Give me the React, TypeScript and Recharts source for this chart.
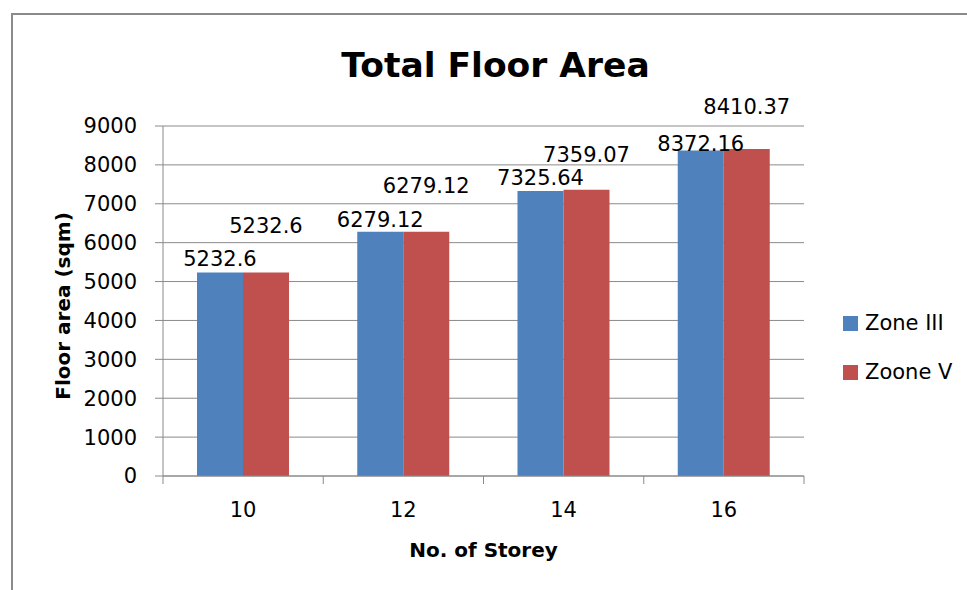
import React from 'react';
import { BarChart, Bar, XAxis, YAxis, CartesianGrid, LabelList } from 'recharts';

const categories = ['10', '12', '14', '16'];
const zoneIII = [5232.6, 6279.12, 7325.64, 8372.16];
const zooneV = [5232.6, 6279.12, 7359.07, 8410.37];
const yTicks = [0, 1000, 2000, 3000, 4000, 5000, 6000, 7000, 8000, 9000];
const seriesNames = ['Zone III', 'Zoone V'];

const data = categories.map((c, i) => ({ storey: c, zoneIII: zoneIII[i], zooneV: zooneV[i] }));

const BLUE = '#4F81BD';
const RED = '#C0504D';
const GRID = '#8a8a8a';
const FONT = '"DejaVu Sans", sans-serif';

const W = 967;
const H = 590;
const MARGIN = { top: 126, right: 163, bottom: 54, left: 100 };
const Y_W = 63;
const X_H = 60;
const BAND = (W - MARGIN.left - Y_W - MARGIN.right) / categories.length;

// labels were nudged by hand in the original, so keep per-point lifts
const liftIII = [7, 5, 6, -1];
const liftV = [40, 39, 28, 35];

const makeLabel = (lift: number[]) => (props: any) => {
  const { x, y, width, value, index } = props;
  return (
    <text x={x + width / 2} y={y - lift[index]} textAnchor="middle" fontFamily={FONT} fontSize={21} fill="#000">
      {String(value)}
    </text>
  );
};

const XTick = (props: any) => {
  const { x, y, payload, index } = props;
  const last = index === categories.length - 1;
  return (
    <g>
      <line x1={x - BAND / 2} x2={x - BAND / 2} y1={y} y2={y + 8} stroke={GRID} />
      {last && <line x1={x + BAND / 2} x2={x + BAND / 2} y1={y} y2={y + 8} stroke={GRID} />}
      <text x={x} y={y + 41} textAnchor="middle" fontFamily={FONT} fontSize={21} fill="#000">
        {payload.value}
      </text>
    </g>
  );
};

const XTitle = (props: any) => {
  const { viewBox } = props;
  return (
    <text x={viewBox.x + viewBox.width / 2} y={viewBox.y + 81} textAnchor="middle" fontFamily={FONT} fontWeight="bold" fontSize={20} fill="#000">
      No. of Storey
    </text>
  );
};

const YTitle = (props: any) => {
  const { viewBox } = props;
  const cx = 70;
  const cy = viewBox.y + viewBox.height / 2 + 5;
  return (
    <text x={cx} y={cy} transform={`rotate(-90, ${cx}, ${cy})`} textAnchor="middle" fontFamily={FONT} fontWeight="bold" fontSize={20} fill="#000">
      Floor area (sqm)
    </text>
  );
};

export default function App() {
  return (
    <div style={{ position: 'absolute', left: 0, top: 0, width: W, height: H, overflow: 'hidden', background: '#fff' }}>
      <div style={{ position: 'absolute', left: 11, top: 13, width: 1100, height: 800, border: `2px solid ${GRID}` }} />
      <div
        style={{
          position: 'absolute', left: 0, width: W - 2 * 0, top: 48, textAlign: 'center', paddingLeft: 24,
          fontFamily: FONT, fontWeight: 'bold', fontSize: 34.5, lineHeight: '34.5px', color: '#000', boxSizing: 'border-box'
        }}
      >
        Total Floor Area
      </div>

      <div style={{ position: 'absolute', left: 0, top: 0 }}>
        <BarChart width={W} height={H} data={data} margin={MARGIN} barCategoryGap={34} barGap={0}>
          <CartesianGrid horizontal vertical={false} stroke={GRID} />
          <XAxis
            dataKey="storey"
            height={X_H}
            axisLine={{ stroke: GRID }}
            tickLine={false}
            tickSize={0}
            tickMargin={0}
            tick={<XTick />}
            label={<XTitle />}
          />
          <YAxis
            width={Y_W}
            domain={[0, 9000]}
            ticks={yTicks}
            interval={0}
            axisLine={{ stroke: GRID }}
            tickLine={{ stroke: GRID }}
            tickSize={8}
            tickMargin={18}
            tick={{ fill: '#000', fontSize: 21, fontFamily: FONT }}
            label={<YTitle />}
          />
          <Bar dataKey="zoneIII" name={seriesNames[0]} fill={BLUE} isAnimationActive={false}>
            <LabelList dataKey="zoneIII" content={makeLabel(liftIII)} />
          </Bar>
          <Bar dataKey="zooneV" name={seriesNames[1]} fill={RED} isAnimationActive={false}>
            <LabelList dataKey="zooneV" content={makeLabel(liftV)} />
          </Bar>
        </BarChart>
      </div>

      <div style={{ position: 'absolute', left: 843, top: 309, fontFamily: FONT, fontSize: 21, color: '#000' }}>
        {seriesNames.map((n, i) => (
          <div key={n} style={{ display: 'flex', alignItems: 'center', height: 28, marginBottom: 21 }}>
            <span style={{ display: 'inline-block', width: 15, height: 15, background: i === 0 ? BLUE : RED, marginRight: 7 }} />
            <span>{n}</span>
          </div>
        ))}
      </div>
    </div>
  );
}
